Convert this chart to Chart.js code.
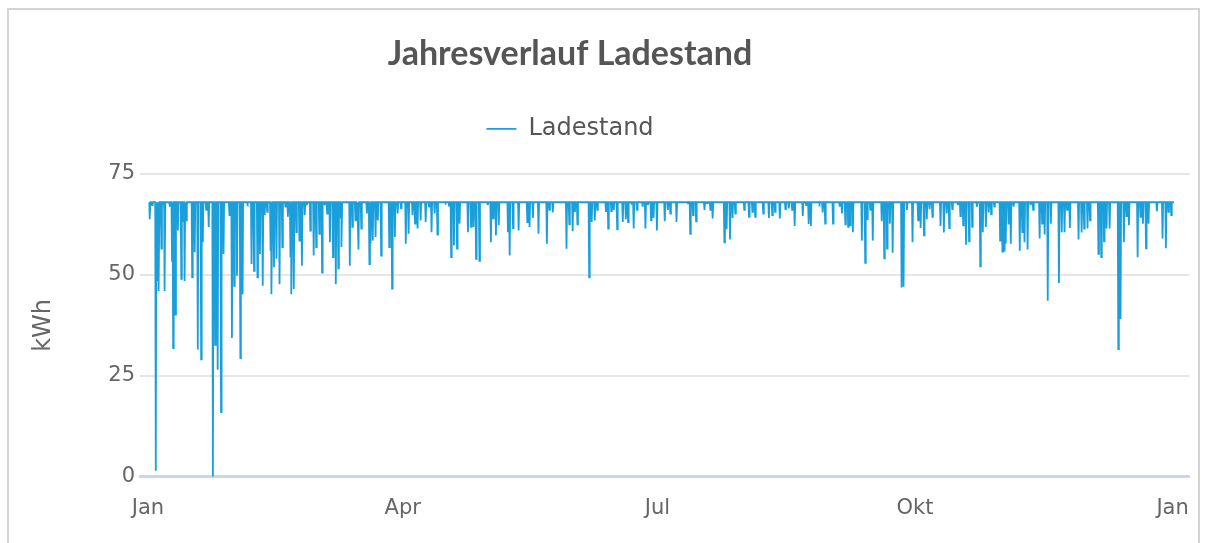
<!DOCTYPE html>
<html lang="de">
<head>
<meta charset="utf-8">
<title>Jahresverlauf Ladestand</title>
<script src="https://cdn.jsdelivr.net/npm/chart.js@4.4.1/dist/chart.umd.min.js"></script>
<style>
  html, body { margin: 0; padding: 0; background: #fff; overflow: hidden; }
  #frame { position: absolute; left: 7px; top: 8px; width: 1189px; height: 600px; border: 2px solid #d4d4d4; }
  #chart { position: absolute; left: 0; top: 0; }
</style>
</head>
<body>
<div id="frame"></div>
<canvas id="chart" width="1208" height="543"></canvas>
<script>
// Ladestand des Speichers in kWh, Tage ab 1. Januar
const fullCharge = 68;
const firstDay = 0.5;
const lastDay = 366.5;

// Tage mit Entladung und der jeweils tiefste Ladestand
const dipDay = [
  0.7, 1.5, 2.8, 3.4, 3.9, 4.8, 5.8, 6.0, 7.8, 8.6,
  9.0, 9.8, 10.7, 11.9, 12.5, 13.1, 13.7, 15.8, 16.7, 17.8,
  19.0, 19.6, 20.8, 21.7, 23.2, 24.0, 24.3, 24.9, 26.1, 27.0,
  29.1, 30.0, 30.8, 31.8, 33.0, 33.8, 35.6, 37.0, 37.9, 39.1,
  40.0, 41.0, 41.7, 42.6, 43.8, 44.2, 45.0, 45.9, 47.0, 48.0,
  49.1, 50.0, 50.9, 51.3, 52.1, 53.0, 54.1, 55.0, 56.0, 56.8,
  58.0, 59.2, 60.1,
  61.2, 62.2, 63.1, 64.0, 65.0, 66.1, 67.1, 68.0, 68.9, 69.2,
  72.1, 73.0, 74.1, 74.6, 75.2, 76.2, 78.2, 79.1, 79.5, 80.3,
  81.3, 82.1, 83.3, 86.2, 87.2, 88.2, 89.2, 90.4, 92.1, 93.1,
  94.5, 95.4, 96.3, 97.4, 99.2, 100.4, 101.3, 102.4, 103.4, 106.3,
  107.5, 108.3, 109.3, 110.4, 111.3, 114.3, 115.4, 116.3, 117.2, 118.4,
  121.4,
  122.5, 123.3, 124.3, 125.3, 128.6, 129.2, 130.4, 132.4, 135.5, 136.3,
  137.5, 139.5, 142.5, 143.4, 144.6, 149.5, 150.5, 151.7, 152.5, 153.4,
  157.6, 158.5, 159.6, 160.5, 163.6, 164.4, 165.5, 166.4, 167.6, 169.6,
  170.7, 171.5, 172.7, 173.5, 174.7, 176.7, 177.7, 178.6, 179.7, 180.6,
  181.8,
  184.6, 185.7, 186.6, 188.8, 192.9, 193.7, 194.7, 195.8, 198.8, 199.7,
  200.9, 201.7, 205.9, 206.7, 207.9, 208.8, 209.8, 213.0, 214.7, 215.9,
  216.9, 219.8, 221.8, 223.0, 224.0, 225.7, 227.7, 228.9, 230.1, 231.0,
  233.9, 235.1, 236.0, 236.8, 239.9, 241.0, 241.9,
  244.7, 247.1, 247.9, 249.1, 250.1, 250.8, 251.8, 255.0, 256.2, 256.9,
  258.0, 258.9, 262.1, 263.0, 264.0, 265.0, 266.0, 269.2, 269.9, 271.1,
  273.1, 275.1, 276.0, 277.2, 278.2, 279.2, 280.2, 283.1, 284.3, 285.3,
  286.2, 287.3, 289.3, 290.2, 291.2, 292.2, 293.3, 294.4, 296.1, 297.3,
  298.2, 299.3, 300.3, 301.2, 302.3, 304.4, 305.2,
  305.8, 306.4, 307.4, 308.2, 309.2, 311.4, 312.3, 313.1, 314.2, 315.3,
  316.2, 318.5, 319.4, 320.3, 321.4, 322.5, 325.4, 326.4, 327.4, 328.3,
  329.3, 332.4, 333.5, 334.4, 335.6, 336.5, 339.5, 340.5, 341.5, 342.4,
  343.5, 346.6, 347.4, 348.6, 349.5, 350.4, 353.5, 354.5, 355.4, 356.5,
  357.4, 360.4, 362.4, 363.6, 364.5, 365.5
];
const dipKWh = [
  63.8, 67.3, 1.5, 48.5, 46, 56.5, 66.5, 46, 66.9, 53.5,
  31.9, 40.2, 61, 49, 63.1, 48.5, 63.5, 49.4, 55.6, 31.5,
  29.1, 58.1, 66.1, 61.9, 0, 32.7, 53.1, 26.5, 16, 55.2,
  64.8, 34.4, 47.3, 49.8, 29.4, 45.2, 67.7, 52.7, 51, 49.4,
  55.2, 47.3, 64.8, 65.6, 56, 45.2, 51.9, 54, 47.7, 56.9,
  66.9, 64.4, 54.4, 45.2, 46.5, 60.6, 58.5, 52.3, 64.8, 67.3,
  61, 54.8, 56.9,
  60.2, 50.6, 67.3, 65.2, 58.1, 54.4, 47.7, 51.6, 64, 56.9,
  52.3, 61.9, 63.5, 64.8, 56.3, 61.5, 65.2, 52.7, 57.7, 58.5,
  59.4, 63.5, 54.8, 56.9, 46.6, 59.4, 65.2, 66.5, 57.7, 60.2,
  64.8, 62.7, 61.5, 63.5, 63.1, 66.9, 60.6, 65.2, 60, 67.7,
  67.7, 54.4, 57.3, 56.5, 62.7, 60.6, 61.9, 61.9, 54, 53.5,
  67.3,
  58.1, 64, 59.8, 62.3, 60.6, 54.8, 61.6, 61, 63.1, 61.9,
  64.1, 60.2, 57.7, 66.1, 65.5, 56.5, 62.5, 60.8, 65.6, 62.5,
  49.4, 63.1, 63.5, 66.1, 65.6, 61.5, 65.8, 66.1, 61.3, 63.1,
  63.8, 63.1, 67.7, 61.5, 66.1, 66.9, 61.5, 67.3, 63.5, 64.1,
  61,
  63.3, 66.1, 65.2, 63.1, 67.9, 60.2, 64.8, 63.3, 66.1, 67.7,
  66.1, 64, 58.1, 61.3, 58.8, 64.1, 65.2, 66.1, 64.4, 65.6,
  64.4, 65.2, 64.1, 64.8, 65.6, 64, 66.3, 66.5, 66.1, 62.1,
  64.6, 67.3, 62.6, 62.1, 67.7, 65.5, 62.7,
  62.7, 66.9, 65.2, 62.5, 61.9, 62.3, 60.6, 58.5, 53, 63.8,
  66.1, 58.5, 63.3, 54.1, 56.5, 62.7, 55.5, 46.9, 47.1, 66.1,
  58.1, 63.5, 61.6, 59.8, 63.8, 66.3, 64.4, 62.1, 60.5, 65.2,
  61.6, 66.3, 67.3, 64.6, 62.3, 57.5, 58.3, 61.9, 66.9, 52.1,
  60.6, 61.9, 65.5, 65, 66.9, 58.5, 55.8,
  56, 57.7, 62.5, 57.7, 66.9, 56, 60.6, 58.1, 56.3, 67.3,
  66.1, 59, 62.7, 60, 43.6, 62.7, 48, 60.6, 60.6, 66.1,
  61.6, 58.8, 60.5, 61.5, 61.5, 63.5, 55.2, 54.4, 58.3, 61.5,
  61.5, 31.6, 39.1, 58.1, 64.6, 62.3, 54.4, 64.4, 62.7, 56.6,
  62.7, 65.8, 59, 56.6, 65.6, 64.8
];

const monthTicks = [0, 91, 182, 274, 366];
const monthLabels = ['Jan', 'Apr', 'Jul', 'Okt', 'Jan'];
const kwhTicks = [0, 25, 50, 75];

// Verlauf: voll geladen, an jedem Entladetag kurz nach unten
const points = [{ x: firstDay, y: fullCharge }];
dipDay.forEach((d, i) => {
  points.push({ x: d - 0.2, y: fullCharge });
  points.push({ x: d, y: dipKWh[i] });
  points.push({ x: d + 0.2, y: fullCharge });
});
points.push({ x: lastDay, y: fullCharge });

const sansFamily = "'DejaVu Sans', Verdana, sans-serif";
const tickFont = { family: sansFamily, size: 21 };

// Titel und Legende etwas links von der Mitte
const headerCenterX = 570;
const shiftHeader = {
  id: 'shiftHeader',
  afterLayout(chart) {
    [chart.titleBlock, chart.legend].forEach(b => {
      if (!b) return;
      const dx = headerCenterX - (b.left + b.right) / 2;
      b.left += dx;
      b.right += dx;
    });
  }
};

const chart = new Chart(document.getElementById('chart').getContext('2d'), {
  type: 'line',
  data: {
    datasets: [{
      label: 'Ladestand',
      data: points,
      borderColor: '#1a9fda',
      backgroundColor: '#1a9fda',
      borderWidth: 1.8,
      pointRadius: 0,
      tension: 0,
      fill: false
    }]
  },
  options: {
    responsive: false,
    animation: false,
    devicePixelRatio: 1,
    layout: { padding: { top: 0, left: 8, right: 13, bottom: 3 } },
    plugins: {
      title: {
        display: true,
        text: 'Jahresverlauf Ladestand',
        color: '#555555',
        font: { family: "Lato, sans-serif", size: 34, weight: 'bold' },
        padding: { top: 34, bottom: 14 }
      },
      // leerer Abstand zwischen Legende und Diagrammfläche
      subtitle: {
        display: true,
        text: '',
        weight: 500,
        font: { size: 1 },
        padding: { top: 22, bottom: 0 }
      },
      legend: {
        display: true,
        labels: {
          usePointStyle: true,
          pointStyle: 'line',
          pointStyleWidth: 30,
          padding: 28,
          color: '#555555',
          font: { family: sansFamily, size: 24 }
        }
      },
      tooltip: { enabled: false }
    },
    scales: {
      x: {
        type: 'linear',
        min: -2.84,
        max: 372,
        grid: { display: true, color: 'rgba(0,0,0,0)', drawTicks: false },
        border: { display: true, color: '#ccd6eb', width: 3 },
        afterBuildTicks: s => { s.ticks = monthTicks.map(v => ({ value: v })); },
        ticks: {
          autoSkip: false,
          maxRotation: 0,
          padding: 19,
          color: '#666666',
          font: tickFont,
          callback: (v, i) => monthLabels[i]
        }
      },
      y: {
        min: 0,
        max: 75,
        afterBuildTicks: s => { s.ticks = kwhTicks.map(v => ({ value: v })); },
        afterFit: s => { s.width = 132; },
        grid: { color: '#e6e6e6', lineWidth: 2, drawTicks: false },
        border: { display: false },
        ticks: { padding: 5, color: '#666666', font: tickFont },
        title: {
          display: true,
          text: 'kWh',
          color: '#666666',
          font: { family: sansFamily, size: 24 },
          padding: { top: 21, bottom: 0 }
        }
      }
    }
  },
  plugins: [shiftHeader]
});
</script>
</body>
</html>
